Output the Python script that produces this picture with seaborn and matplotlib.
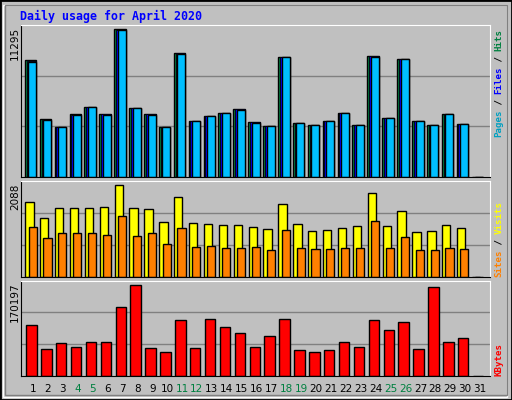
import numpy as np
import matplotlib
matplotlib.use('Agg')
import matplotlib.pyplot as plt
import seaborn as sns
import pandas as pd
from matplotlib.patches import Rectangle

sns.set_style('white')
plt.rcParams['font.family'] = ['DejaVu Sans Mono', 'DejaVu Sans']

days = list(range(1, 32))
weekend_days = [4, 5, 11, 12, 18, 19, 25, 26]

hits = [8920, 4395, 3830, 4780, 5370, 4780, 11295, 5295, 4780, 3830,
        9485, 4290, 4680, 4910, 5165, 4215, 3910, 9150, 4140, 3985,
        4290, 4910, 3985, 9230, 4525, 8995, 4290, 3985, 4835, 4060, 0]
files = [8880, 4370, 3820, 4760, 5360, 4770, 11270, 5290, 4770, 3825,
         9460, 4270, 4675, 4900, 5150, 4200, 3900, 9145, 4130, 3980,
         4285, 4905, 3980, 9215, 4510, 8990, 4285, 3975, 4820, 4050, 0]
pages = [8830, 4310, 3800, 4720, 5340, 4760, 11220, 5260, 4760, 3815,
         9420, 4230, 4665, 4880, 5100, 4140, 3880, 9140, 4090, 3970,
         4280, 4895, 3975, 9180, 4460, 8985, 4280, 3940, 4790, 4020, 0]
visits = [1702, 1339, 1566, 1566, 1566, 1589, 2088, 1566, 1543, 1248,
          1816, 1226, 1203, 1180, 1180, 1135, 1089, 1657, 1203, 1044,
          1067, 1112, 1157, 1906, 1157, 1498, 1021, 1044, 1180, 1112, 0]
sites = [1135, 885, 999, 999, 999, 953, 1384, 930, 999, 749,
         1112, 681, 704, 658, 658, 681, 613, 1067, 658, 635,
         635, 658, 658, 1271, 658, 908, 613, 613, 658, 635, 0]
kbytes = [95680, 50950, 62130, 54670, 64000, 64000, 129230, 170197, 52810, 45350,
          105000, 52810, 106860, 91950, 80770, 54670, 75180, 106860, 49080, 45350,
          49080, 64000, 54670, 105000, 86360, 101270, 50950, 166510, 64000, 71450, 0]

BG = '#c0c0c0'
W, H = 512, 400
fig = plt.figure(figsize=(W / 100, H / 100), dpi=100, facecolor=BG)

# bevelled frame
fig.patches.append(Rectangle((0, 0), 1, 1, transform=fig.transFigure, fill=False,
                             edgecolor='black', linewidth=2))
fig.patches.append(Rectangle((3 / W, 3 / H), 1 - 8 / W, 1 - 8 / H, transform=fig.transFigure,
                             fill=False, edgecolor='white', linewidth=1))
fig.patches.append(Rectangle((5 / W, 5 / H), 1 - 10 / W, 1 - 10 / H, transform=fig.transFigure,
                             fill=False, edgecolor='#808080', linewidth=1))

def px_axes(top, bottom):
    return fig.add_axes([21 / W, (H - bottom) / H, 469 / W, (bottom - top) / H])

axTop = px_axes(25, 176.5)
axMid = px_axes(180.5, 277)
axBot = px_axes(280.5, 376)

x = np.array(days, dtype=float)

def style(ax, ymax):
    ax.set_facecolor(BG)
    ax.set_xlim(0.2, 31.7)
    ax.set_ylim(0, ymax)
    for g in (ymax / 3, 2 * ymax / 3):
        ax.axhline(g, color='#808080', linewidth=1, zorder=0)
    ax.set_xticks([])
    ax.set_yticks([])
    for s in ('left', 'bottom'):
        ax.spines[s].set_color('black')
    for s in ('top', 'right'):
        ax.spines[s].set_color('white')

# top: hits / files / pages
axTop.bar(x - 0.54, hits, width=0.78, align='edge', color='#008040', edgecolor='black', linewidth=1)
axTop.bar(x - 0.42, files, width=0.66, align='edge', color='#0000ff', edgecolor='black', linewidth=0.6)
axTop.bar(x - 0.30, pages, width=0.54, align='edge', color='#00bfff', edgecolor='black', linewidth=1)
style(axTop, 11295 * 1.03)

# middle: visits / sites
axMid.bar(x - 0.52, visits, width=0.56, align='edge', color='#ffff00', edgecolor='black', linewidth=1)
axMid.bar(x - 0.29, sites, width=0.54, align='edge', color='#ff8000', edgecolor='black', linewidth=1)
style(axMid, 2088 * 1.045)

# bottom: kbytes
dfKb = pd.DataFrame({'day': x - 0.1, 'kb': kbytes})
sns.barplot(data=dfKb, x='day', y='kb', native_scale=True, width=0.70, color='#ff0000',
            saturation=1, edgecolor='black', linewidth=1, ax=axBot, zorder=2)
style(axBot, 170197 * 1.045)
axBot.set_xlabel('')
axBot.set_ylabel('')

# title
fig.text(20 / W, 1 - 16 / H, 'Daily usage for April 2020', color='#0000ff',
         fontsize=8.4, fontweight='bold', va='center', ha='left')

# day labels
for d in days:
    col = '#008040' if d in weekend_days else 'black'
    fig.text((33 + 14.9 * (d - 1)) / W, 1 - 389 / H, str(d), color=col,
             fontsize=7.5, family='DejaVu Sans', ha='center', va='center')

# max labels on the left
for label, top in (('11295', 27), ('2088', 184), ('170197', 282)):
    fig.text(15 / W, 1 - top / H, label, rotation=90, fontsize=7.5, family='DejaVu Sans',
             ha='center', va='top', color='black')

# legends on the right, bottom-to-top
def stacked(pieces, ystart, xpos=499, step=5.35):
    y = ystart
    for txt, col in pieces:
        fig.text(xpos / W, 1 - y / H, txt, rotation=90, color=col, fontsize=6.6,
                 fontweight='bold', ha='center', va='bottom')
        y -= step * len(txt)

stacked([('Pages', '#00a0c0'), (' / ', 'black'), ('Files', '#0000ff'),
         (' / ', 'black'), ('Hits', '#008040')], 137)
stacked([('Sites', '#ff8000'), (' / ', 'black'), ('Visits', '#ffff00')], 277)
stacked([('KBytes', '#ff0000')], 376)

fig.savefig('out.png', dpi=100, facecolor=BG)
